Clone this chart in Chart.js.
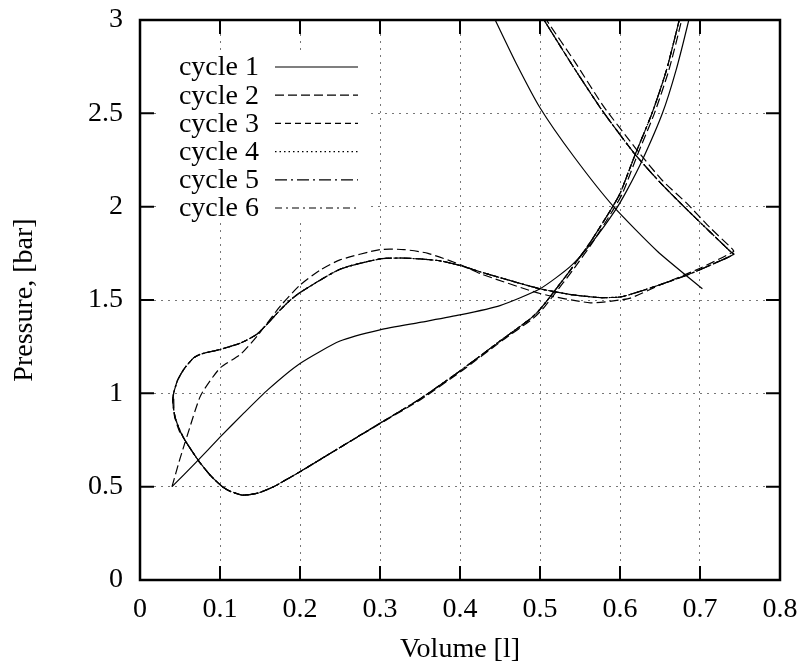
<!DOCTYPE html>
<html>
<head>
<meta charset="utf-8">
<script src="https://cdn.jsdelivr.net/npm/chart.js@4/dist/chart.umd.min.js"></script>
<style>
  html, body { margin: 0; padding: 0; background: #fff; }
  canvas { display: block; }
</style>
</head>
<body>
<canvas id="grafico" width="803" height="666"></canvas>
<script>
// tick labels
const xTickLabels = ['0', '0.1', '0.2', '0.3', '0.4', '0.5', '0.6', '0.7', '0.8'];
const yTickLabels = ['0', '0.5', '1', '1.5', '2', '2.5', '3'];
const cycleNames = ['cycle 1', 'cycle 2', 'cycle 3', 'cycle 4', 'cycle 5', 'cycle 6'];

// cycle 1: compression from 0.5 bar, then expansion (null = leaves the plot)
const c1V = [0.040, 0.070, 0.100, 0.130, 0.160, 0.200, 0.250, 0.300, 0.350, 0.400, 0.450, 0.500, 0.538, 0.567, 0.594, 0.609, 0.628, 0.653, 0.670, 0.686, 0.692,
             0.600, 0.435, 0.444, 0.470, 0.500, 0.542, 0.592, 0.647, 0.703];
const c1P = [0.50, 0.63, 0.765, 0.895, 1.02, 1.16, 1.28, 1.34, 1.38, 1.42, 1.47, 1.56, 1.68, 1.82, 1.98, 2.09, 2.25, 2.50, 2.73, 3.00, 3.12,
             null, 3.08, 3.00, 2.77, 2.53, 2.27, 2.00, 1.76, 1.56];

// cycle 2
const c2V = [0.040, 0.050, 0.061, 0.076, 0.100, 0.126, 0.147, 0.176, 0.200, 0.225, 0.250, 0.300, 0.330, 0.360, 0.400, 0.426, 0.500, 0.563, 0.600, 0.613, 0.650, 0.700, 0.742,
             0.740, 0.712, 0.683, 0.653, 0.620, 0.579, 0.543, 0.508, 0.493,
             0.600,
             0.681, 0.677, 0.661, 0.643, 0.622, 0.603, 0.591, 0.566, 0.541, 0.516, 0.503, 0.491, 0.452, 0.402, 0.352, 0.301, 0.250, 0.200, 0.167, 0.147, 0.128, 0.113, 0.103, 0.088, 0.073, 0.056, 0.049, 0.043, 0.042];
const c2P = [0.50, 0.65, 0.80, 0.99, 1.135, 1.21, 1.31, 1.47, 1.58, 1.66, 1.715, 1.77, 1.77, 1.75, 1.69, 1.64, 1.535, 1.485, 1.50, 1.51, 1.58, 1.67, 1.76,
             1.775, 1.89, 2.02, 2.14, 2.31, 2.54, 2.78, 3.00, 3.10,
             null,
             3.12, 3.00, 2.73, 2.50, 2.28, 2.07, 1.98, 1.81, 1.66, 1.52, 1.45, 1.40, 1.28, 1.12, 0.97, 0.84, 0.71, 0.58, 0.50, 0.465, 0.455, 0.475, 0.50, 0.56, 0.64, 0.75, 0.80, 0.88, 1.00];

// cycles 3-6 lie on top of each other: expansion, return stroke, loop, compression
const loopV = [0.490, 0.505, 0.540, 0.577, 0.617, 0.650, 0.680, 0.710, 0.738, 0.742, 0.720, 0.684, 0.642, 0.613, 0.600, 0.576, 0.542, 0.500, 0.450, 0.426, 0.400, 0.375, 0.350, 0.326, 0.300, 0.250,
               0.200, 0.188, 0.176, 0.147, 0.126, 0.100, 0.076, 0.067, 0.055, 0.047, 0.042, 0.041, 0.044, 0.050, 0.056, 0.073, 0.088, 0.103, 0.113, 0.128, 0.147, 0.167, 0.200, 0.250,
               0.300, 0.350, 0.400, 0.450, 0.488, 0.500, 0.513, 0.538, 0.563, 0.588, 0.600, 0.619, 0.640, 0.658, 0.674, 0.680];
const loopP = [3.10, 3.00, 2.76, 2.52, 2.29, 2.13, 2.00, 1.875, 1.76, 1.745, 1.70, 1.634, 1.57, 1.53, 1.516, 1.513, 1.527, 1.56, 1.62, 1.65, 1.685, 1.71, 1.72, 1.725, 1.72, 1.665,
               1.54, 1.50, 1.45, 1.32, 1.27, 1.235, 1.21, 1.19, 1.13, 1.07, 1.00, 0.95, 0.87, 0.80, 0.75, 0.64, 0.56, 0.50, 0.475, 0.455, 0.465, 0.50, 0.58, 0.71,
               0.84, 0.97, 1.12, 1.28, 1.40, 1.45, 1.52, 1.66, 1.81, 1.98, 2.07, 2.28, 2.50, 2.73, 3.00, 3.12];

const dashes = [[], [9, 4], [6, 4], [1.5, 3], [12, 4, 2, 4], [7, 4, 2, 4]];
const fonte = '"Liberation Serif", "Times New Roman", serif';

const pontos = (vs, ps) => vs.map((v, i) => ({ x: v, y: ps[i] }));
const series = [
    pontos(c1V, c1P),
    pontos(c2V, c2P),
    pontos(loopV, loopP),
    pontos(loopV, loopP),
    pontos(loopV, loopP),
    pontos(loopV, loopP)
];

// legenda no estilo gnuplot (texto à direita, amostra da linha depois)
const legendaGnu = {
    id: 'legendaGnu',
    afterDatasetsDraw(chart) {
        const ctx = chart.ctx;
        const a = chart.chartArea;
        ctx.save();
        ctx.fillStyle = '#fff';
        ctx.fillRect(a.left + 17, a.top + 33, 212, 170);
        ctx.font = '28px ' + fonte;
        ctx.textAlign = 'right';
        ctx.textBaseline = 'middle';
        chart.data.datasets.forEach((ds, i) => {
            const y = a.top + 47 + i * 28.2;
            ctx.fillStyle = '#000';
            ctx.fillText(ds.label, a.left + 119, y + 1);
            ctx.beginPath();
            ctx.setLineDash(ds.borderDash);
            ctx.lineWidth = ds.borderWidth;
            ctx.strokeStyle = '#000';
            ctx.moveTo(a.left + 135, y);
            ctx.lineTo(a.left + 218, y);
            ctx.stroke();
        });
        ctx.restore();
    }
};

// moldura e marcas para dentro, nos quatro lados
const moldura = {
    id: 'moldura',
    afterDraw(chart) {
        const ctx = chart.ctx;
        const a = chart.chartArea;
        const sx = chart.scales.x, sy = chart.scales.y;
        ctx.save();
        ctx.strokeStyle = '#000';
        ctx.lineWidth = 2;
        ctx.beginPath();
        sx.ticks.forEach(t => {
            const px = sx.getPixelForValue(t.value);
            ctx.moveTo(px, a.bottom); ctx.lineTo(px, a.bottom - 14);
            ctx.moveTo(px, a.top); ctx.lineTo(px, a.top + 14);
        });
        sy.ticks.forEach(t => {
            const py = sy.getPixelForValue(t.value);
            ctx.moveTo(a.left, py); ctx.lineTo(a.left + 14, py);
            ctx.moveTo(a.right, py); ctx.lineTo(a.right - 14, py);
        });
        ctx.stroke();
        ctx.lineWidth = 2.5;
        ctx.strokeRect(a.left, a.top, a.right - a.left, a.bottom - a.top);
        ctx.restore();
    }
};

const grafico = new Chart(document.getElementById('grafico').getContext('2d'), {
    type: 'scatter',
    data: {
        datasets: series.map((d, i) => ({
            label: cycleNames[i],
            data: d,
            showLine: true,
            borderColor: '#000',
            borderWidth: 1.2,
            borderDash: dashes[i],
            pointRadius: 0,
            tension: 0.2,
            spanGaps: false,
            clip: 0
        }))
    },
    options: {
        responsive: false,
        animation: false,
        devicePixelRatio: 1,
        layout: { padding: { top: 20, right: 23, left: 0, bottom: 0 } },
        plugins: {
            legend: { display: false },
            tooltip: { enabled: false }
        },
        scales: {
            x: {
                type: 'linear',
                min: 0,
                max: 0.8,
                afterFit: s => { s.height = 86; s.paddingLeft = 0; s.paddingRight = 0; },
                ticks: {
                    stepSize: 0.1,
                    padding: 13,
                    color: '#000',
                    font: { family: fonte, size: 28 },
                    callback: v => xTickLabels[Math.round(v * 10)]
                },
                grid: { color: '#777', lineWidth: 1, drawTicks: false, borderDash: [2, 5] },
                border: { display: false, dash: [2, 5] },
                title: {
                    display: true,
                    text: 'Volume [l]',
                    color: '#000',
                    font: { family: fonte, size: 28 },
                    padding: { top: 0, bottom: 0 }
                }
            },
            y: {
                type: 'linear',
                min: 0,
                max: 3,
                afterFit: s => { s.width = 140; s.paddingTop = 0; s.paddingBottom = 0; },
                ticks: {
                    stepSize: 0.5,
                    padding: 17,
                    color: '#000',
                    font: { family: fonte, size: 28 },
                    callback: v => yTickLabels[Math.round(v * 2)]
                },
                grid: { color: '#777', lineWidth: 1, drawTicks: false, borderDash: [2, 5] },
                border: { display: false, dash: [2, 5] },
                title: {
                    display: true,
                    text: 'Pressure, [bar]',
                    color: '#000',
                    font: { family: fonte, size: 28 },
                    padding: { top: 8, bottom: 0 }
                }
            }
        }
    },
    plugins: [legendaGnu, moldura]
});
</script>
</body>
</html>
